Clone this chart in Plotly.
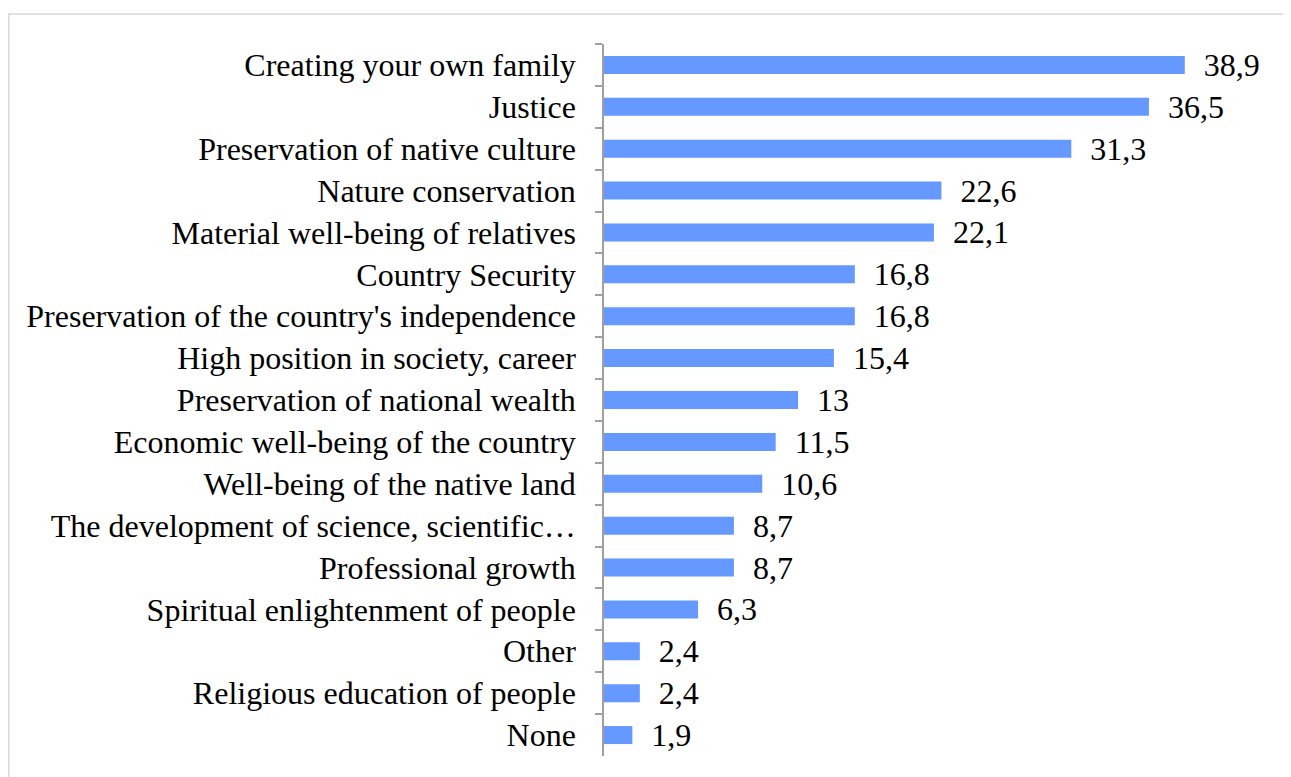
import plotly.graph_objects as go

categories = [
    "Creating your own family",
    "Justice",
    "Preservation of native culture",
    "Nature conservation",
    "Material well-being of relatives",
    "Country Security",
    "Preservation of the country's independence",
    "High position in society, career",
    "Preservation of national wealth",
    "Economic well-being of the country",
    "Well-being of the native land",
    "The development of science, scientific…",
    "Professional growth",
    "Spiritual enlightenment of people",
    "Other",
    "Religious education of people",
    "None",
]
values = [38.9, 36.5, 31.3, 22.6, 22.1, 16.8, 16.8, 15.4, 13, 11.5, 10.6, 8.7, 8.7, 6.3, 2.4, 2.4, 1.9]

labels = ["\u00a0\u00a0" + f"{v:g}".replace(".", ",") for v in values]

FONT = "Liberation Serif, Times New Roman, serif"
FS = 32

fig = go.Figure(
    go.Bar(
        x=values,
        y=categories,
        orientation="h",
        marker=dict(color="#6699FF", line=dict(width=0)),
        text=labels,
        textposition="outside",
        constraintext="none",
        cliponaxis=False,
        textfont=dict(family=FONT, size=FS, color="#000000"),
        hoverinfo="skip",
    )
)

# page body adds an 8px offset, so the figure is laid out 8px smaller
OFF = 8
W, H = 1291 - OFF, 777 - OFF
L, R, T, B = 604 - OFF, 1270 - OFF, 44 - OFF, 756 - OFF

fig.update_layout(
    width=W,
    height=H,
    margin=dict(l=L, r=W - R, t=T, b=H - B, pad=0),
    paper_bgcolor="white",
    plot_bgcolor="white",
    bargap=0.57,
    showlegend=False,
    font=dict(family=FONT, size=FS, color="#000000"),
    xaxis=dict(
        range=[0, (R - L) / 14.93],
        showticklabels=False,
        showgrid=False,
        zeroline=False,
        showline=False,
        ticks="",
        fixedrange=True,
    ),
    yaxis=dict(
        type="category",
        autorange="reversed",
        showline=True,
        linecolor="#a0a0a0",
        linewidth=1.5,
        ticks="outside",
        tickson="boundaries",
        ticklen=7,
        tickwidth=1.5,
        tickcolor="#a0a0a0",
        ticklabelstandoff=20,
        tickfont=dict(family=FONT, size=FS, color="#000000"),
        showgrid=False,
        fixedrange=True,
    ),
)

# outer chart-area border (light gray), extending past right/bottom of view
x0 = (8 - OFF + 0.75 - L) / (R - L)
x1 = (W + 20 - L) / (R - L)
y1 = 1 + (T - (14 - OFF)) / (B - T)
y0 = -(H + 20 - B) / (B - T)
fig.add_shape(
    type="rect", xref="paper", yref="paper",
    x0=x0, x1=x1, y0=y0, y1=y1,
    line=dict(color="#d9d9d9", width=1.5),
    fillcolor="rgba(0,0,0,0)",
    layer="below",
)

fig.write_html("out.html")
